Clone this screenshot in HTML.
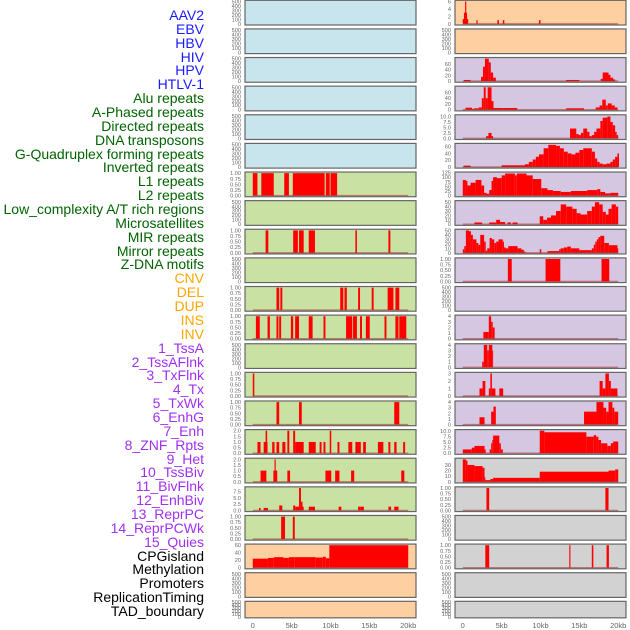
<!DOCTYPE html>
<html><head><meta charset="utf-8">
<style>
html,body{margin:0;padding:0;background:#fff;}
body{width:630px;height:630px;overflow:hidden;position:relative;font-family:"Liberation Sans",sans-serif;}
#labels{position:absolute;left:0;top:0;width:204px;height:630px;}
.lab{position:absolute;right:0;font-size:14px;line-height:14px;white-space:nowrap;text-align:right;}
svg{position:absolute;left:0;top:0;}
</style></head>
<body>
<div id="labels"></div>
<svg id="chart" width="630" height="630"></svg>
<script>
// ---- data ----
const trackNames=["AAV2","EBV","HBV","HIV","HPV","HTLV-1","Alu repeats","A-Phased repeats","Directed repeats","DNA transposons","G-Quadruplex forming repeats","Inverted repeats","L1 repeats","L2 repeats","Low_complexity A/T rich regions","Microsatellites","MIR repeats","Mirror repeats","Z-DNA motifs","CNV","DEL","DUP","INS","INV","1_TssA","2_TssAFlnk","3_TxFlnk","4_Tx","5_TxWk","6_EnhG","7_Enh","8_ZNF_Rpts","9_Het","10_TssBiv","11_BivFlnk","12_EnhBiv","13_ReprPC","14_ReprPCWk","15_Quies","CPGisland","Methylation","Promoters","ReplicationTiming","TAD_boundary"];
const trackGroups=["virus","virus","virus","virus","virus","virus","repeat","repeat","repeat","repeat","repeat","repeat","repeat","repeat","repeat","repeat","repeat","repeat","repeat","sv","sv","sv","sv","sv","chrom","chrom","chrom","chrom","chrom","chrom","chrom","chrom","chrom","chrom","chrom","chrom","chrom","chrom","chrom","other","other","other","other","other"];
const xTicks=[0,5,10,15,20];
const xTickLabels=["0","5kb","10kb","15kb","20kb"];
const emptyTicks=[0,100,200,300,400,500];
const binTicks=[0,0.25,0.5,0.75,1];
const binTickLabels=["0.00","0.25","0.50","0.75","1.00"];
// segments: [start_kb, end_kb, value]
const L7=[[0,0.6,1],[1.1,2.7,1],[4.05,4.65,1],[5.15,9.25,1],[9.4,9.9,1],[10.0,10.85,1]];
const L9=[[1.65,2.0,1],[5.2,5.8,1],[5.95,6.55,1],[7.2,8.0,1],[13.2,13.4,1],[17.45,17.7,1]];
const L11=[[3.05,3.4,1],[3.55,3.8,1],[11.25,11.65,1],[11.8,12.1,1],[13.55,13.8,1],[15.3,15.55,1],[17.35,18.1,1],[18.35,18.85,1]];
const L12=[[0.4,0.9,1],[1.9,2.2,1],[3.05,3.3,1],[3.4,3.65,1],[4.9,5.2,1],[5.45,5.95,1],[7.2,7.7,1],[9.1,9.35,1],[12.0,12.8,1],[12.9,13.4,1],[13.8,14.05,1],[14.55,15.05,1],[16.95,17.2,1],[18.35,18.75,1],[18.85,19.75,1]];
const L14=[[0,0.2,1]];
const L15=[[3.05,3.4,1],[5.95,6.3,1],[18.2,18.85,1]];
const L16=[[0.6,1.0,1],[1.4,1.9,1],[1.65,1.85,2],[2.5,2.8,1],[3.05,3.4,1],[3.8,4.2,1],[4.45,4.7,2],[5.2,5.45,2],[5.45,6.55,1],[7.2,8.1,1],[8.6,8.85,1],[9.1,9.35,1],[9.9,10.1,2],[10.9,11.15,1],[12.3,12.8,1],[13.2,13.9,1],[14.2,14.55,1],[16.1,16.8,1],[17.45,17.7,1],[18.2,18.5,1],[19.35,19.6,1]];
const L17=[[1.0,1.75,1],[2.65,3.15,1],[2.8,2.95,2],[4.45,4.8,1],[9.35,10.1,1],[10.6,11.15,1],[12.65,13.05,1],[19.1,19.5,1]];
const L18=[[0.8,1.0,1],[1.4,1.95,1],[3.4,3.8,2],[5.2,5.45,2],[5.45,5.95,1.5],[5.95,6.2,9],[6.2,6.4,3.5],[6.4,6.55,1.5],[7.2,8.0,1.5],[11.05,11.4,1.5],[13.55,13.9,1.5],[13.9,14.3,1.5],[17.45,17.8,1.5],[18.2,18.75,1.5]];
const L19=[[3.65,4.15,1],[5.15,5.4,1]];
const L20=[[0,1.95,24],[1.95,2.7,26],[2.7,3.95,28],[3.95,4.65,26],[4.65,5.4,28],[5.4,8.1,28],[8.1,9.0,27],[9.0,9.4,29],[9.4,9.85,25],[9.85,20,60]];
const R1=[[0,0.7,1.3],[0.15,0.55,3],[0.3,0.45,6],[1.75,1.9,1],[4.45,4.65,1],[5.15,5.35,1],[9.8,10.0,1]];
const R3=[[0.15,1.0,4],[2.35,2.6,15],[2.6,2.85,50],[2.85,3.35,78],[3.35,3.6,65],[3.6,3.9,30],[3.9,4.25,12],[13.3,15.0,4],[17.75,18.0,8],[18.0,18.75,30],[18.75,19.0,22],[19.0,19.35,12],[19.35,19.6,6]];
const R4=[[0.35,1.2,7],[1.2,1.45,3],[1.45,2.05,5],[2.05,2.45,8],[2.45,2.7,40],[2.7,2.95,78],[2.95,3.2,40],[3.2,3.7,78],[3.7,3.95,30],[3.95,5.2,6],[5.2,7.0,6],[13.3,15.6,5],[17.1,17.6,8],[17.6,17.95,15],[17.95,18.4,35],[18.4,18.65,15],[18.65,19.15,22],[19.15,19.55,15],[19.55,19.9,8]];
const R5=[[3.0,3.3,1],[3.3,3.7,2.5],[3.7,3.9,1],[13.8,14.6,4.5],[14.6,14.9,2],[14.9,15.2,1.5],[15.2,15.5,2.5],[15.5,16.0,4.5],[16.0,16.3,3],[16.3,16.6,1],[16.6,16.9,1.5],[16.9,17.2,3],[17.2,17.7,4.5],[17.7,18.0,8],[18.0,18.6,9.5],[18.6,19.0,10],[19.0,19.3,7.5],[19.3,19.6,6],[19.6,19.8,3],[19.8,20.0,1.5]];
const R6=[[0.1,1.0,4],[5.0,8.0,5],[8.0,8.5,8],[8.5,9.0,15],[9.0,9.4,22],[9.4,9.8,30],[9.8,10.4,37],[10.4,11.0,55],[11.0,12.0,65],[12.0,12.5,62],[12.5,13.0,55],[13.0,13.5,45],[13.5,14.0,40],[14.0,14.5,37],[14.5,15.0,42],[15.0,15.5,50],[15.5,16.6,55],[16.6,17.0,45],[17.0,17.3,25],[17.3,17.6,15],[17.6,18.0,10],[18.0,18.5,8],[18.5,19.0,10],[19.0,19.3,15],[19.3,19.6,22],[19.6,19.9,30],[19.9,20.1,40]];
const R7=[[0,0.4,85],[0.4,0.6,80],[0.6,1.0,55],[1.0,1.65,70],[1.65,2.4,85],[2.4,2.75,55],[2.75,3.05,15],[3.05,3.4,10],[3.4,3.7,30],[3.7,3.9,80],[3.9,4.4,100],[4.4,5.0,95],[5.0,5.45,110],[5.45,6.7,120],[6.7,6.95,110],[6.95,8.2,120],[8.2,9.0,110],[9.0,10.1,90],[10.1,10.9,40],[10.9,11.6,30],[11.6,12.6,25],[12.6,13.9,20],[13.9,16.0,25],[16.0,17.3,30],[17.3,17.7,35],[17.7,18.3,20],[18.3,19.0,12],[19.0,20.0,15]];
const R8=[[1.5,2.5,4],[3.4,4.3,4],[4.3,4.8,10],[4.8,5.45,5],[5.75,6.2,4],[6.4,7.05,4],[9.9,10.35,18],[10.35,10.85,10],[10.85,11.35,15],[11.35,12.0,20],[12.0,12.6,30],[12.6,13.3,45],[13.3,14.1,40],[14.1,14.65,35],[14.65,15.15,25],[15.15,16.0,22],[16.0,16.6,30],[16.6,17.0,40],[17.0,17.55,50],[17.55,18.0,45],[18.0,18.4,28],[18.4,18.75,22],[18.75,19.15,35],[19.15,19.7,45],[19.7,20.0,40]];
const R9=[[0,0.2,8],[0.2,0.4,15],[0.4,0.8,50],[0.8,1.05,48],[1.05,1.3,40],[1.3,1.75,30],[1.75,2.0,22],[2.0,2.25,18],[2.25,2.75,40],[2.75,2.95,25],[2.95,3.15,5],[3.15,3.45,10],[3.45,3.75,33],[3.75,4.05,30],[4.05,4.3,22],[4.3,4.6,25],[4.6,5.15,30],[5.15,5.3,25],[5.3,5.5,12],[5.5,5.85,10],[5.85,7.05,15],[7.05,7.55,10],[7.55,7.85,7],[7.85,8.05,3],[9.9,10.1,8],[10.9,12.4,4],[12.4,12.6,8],[12.6,13.0,10],[13.0,13.45,12],[13.45,13.9,14],[13.9,15.0,10],[15.0,16.6,6],[16.6,16.85,10],[16.85,17.05,18],[17.05,17.25,25],[17.25,17.45,30],[17.45,17.7,35],[17.7,18.2,38],[18.2,18.8,22],[18.8,19.9,17],[19.9,20.0,10]];
const R10=[[5.8,6.3,1],[10.65,12.55,1],[17.85,18.85,1]];
const R12=[[2.65,3.35,1.2],[3.35,3.65,4],[3.65,3.85,3],[3.85,4.1,2]];
const R13=[[2.5,2.7,1],[2.7,3.15,4],[3.15,3.35,3],[3.35,3.8,4],[3.8,3.9,3]];
const R14=[[2.15,2.55,1],[2.55,2.9,2],[3.35,3.55,1],[3.55,3.75,3],[3.75,4.2,1],[4.7,5.2,1],[17.6,18.0,2],[18.0,18.35,1],[18.35,18.8,3],[18.8,19.05,2],[19.05,19.9,1]];
const R15=[[2.15,2.8,1.3],[3.65,3.95,2.3],[3.95,4.25,3.2],[15.6,17.2,2.3],[17.2,18.1,4],[18.1,18.45,3],[18.45,18.75,2.3],[18.75,19.25,4],[19.25,19.5,3],[19.5,20.0,2.3]];
const R16=[[0,1.15,1.7],[1.15,1.5,2.5],[1.5,2.8,3.3],[2.8,2.95,1.7],[3.45,3.65,1.7],[3.65,3.8,4.5],[3.8,3.9,6],[3.9,4.7,8],[4.7,4.9,4.5],[4.9,5.15,1.7],[9.9,10.5,10.2],[10.5,15.9,9.5],[15.9,16.85,7.5],[16.85,17.15,8.2],[17.15,17.45,7.5],[17.45,17.8,6],[17.8,18.6,4.5],[18.6,19.05,3.3],[19.05,19.35,4.5],[19.35,20.0,5.3]];
const R17=[[0,0.4,40],[0.4,0.6,38],[0.6,1.5,30],[1.5,2.55,28],[2.55,2.8,25],[2.8,2.9,8],[2.9,3.55,3],[3.55,3.9,5],[3.9,9.9,7],[9.9,18.75,18],[18.75,19.6,20],[19.6,20.0,22]];
const R18=[[3.05,3.4,1],[18.35,18.75,1]];
const R20=[[2.9,3.4,1],[13.7,13.85,1],[16.6,16.8,1],[18.5,18.8,1]];

const C={blue:"#c8e4ec",green:"#c9e2a3",peach:"#fecfa0",purple:"#d5c7e2",grey:"#d2d2d2"};
function P(col,row,bg,segs,ticks,labels,max){return {col,row,bg,segs,ticks,labels,max};}
const E=null;
const panels=[
P(0,0,C.blue,E),P(0,1,C.blue,E),P(0,2,C.blue,E),P(0,3,C.blue,E),P(0,4,C.blue,E),P(0,5,C.blue,E),
P(0,6,C.green,L7,binTicks,binTickLabels,1),P(0,7,C.green,E),P(0,8,C.green,L9,binTicks,binTickLabels,1),P(0,9,C.green,E),
P(0,10,C.green,L11,binTicks,binTickLabels,1),P(0,11,C.green,L12,binTicks,binTickLabels,1),P(0,12,C.green,E),
P(0,13,C.green,L14,binTicks,binTickLabels,1),P(0,14,C.green,L15,binTicks,binTickLabels,1),
P(0,15,C.green,L16,[0,0.5,1,1.5,2],["0.0","0.5","1.0","1.5","2.0"],2),
P(0,16,C.green,L17,[0,0.5,1,1.5,2],["0.0","0.5","1.0","1.5","2.0"],2),
P(0,17,C.green,L18,[0,2.5,5,7.5],["0.0","2.5","5.0","7.5"],9),
P(0,18,C.green,L19,binTicks,binTickLabels,1),
P(0,19,C.peach,L20,[0,20,40,60],["0","20","40","60"],60),P(0,20,C.peach,E),P(0,21,C.peach,E),
P(1,0,C.peach,R1,[0,2,4,6],["0","2","4","6"],6),P(1,1,C.peach,E),
P(1,2,C.purple,R3,[0,20,40,60],["0","20","40","60"],78),
P(1,3,C.purple,R4,[0,20,40,60],["0","20","40","60"],78),
P(1,4,C.purple,R5,[0,2.5,5,7.5,10],["0.0","2.5","5.0","7.5","10.0"],10.3),
P(1,5,C.purple,R6,[0,20,40,60],["0","20","40","60"],66),
P(1,6,C.purple,R7,[0,25,50,75,100,125],["0","25","50","75","100","125"],122),
P(1,7,C.purple,R8,[0,10,20,30,40,50],["0","10","20","30","40","50"],51),
P(1,8,C.purple,R9,[0,10,20,30,40,50],["0","10","20","30","40","50"],50),
P(1,9,C.purple,R10,binTicks,binTickLabels,1),P(1,10,C.purple,E),
P(1,11,C.purple,R12,[0,1,2,3,4],["0","1","2","3","4"],4),
P(1,12,C.purple,R13,[0,1,2,3,4],["0","1","2","3","4"],4),
P(1,13,C.purple,R14,[0,1,2,3],["0","1","2","3"],3),
P(1,14,C.purple,R15,[0,1,2,3,4],["0","1","2","3","4"],4),
P(1,15,C.purple,R16,[0,2.5,5,7.5,10],["0.0","2.5","5.0","7.5","10.0"],10.2),
P(1,16,C.grey,R17,[0,10,20,30],["0","10","20","30"],40),
P(1,17,C.grey,R18,binTicks,binTickLabels,1),P(1,18,C.grey,E),
P(1,19,C.grey,R20,binTicks,binTickLabels,1),P(1,20,C.grey,E),P(1,21,C.grey,E)
];

// ---- labels ----
const labColors={virus:"#1a1aff",repeat:"#006400",sv:"#ffa500",chrom:"#a030f0",other:"#000"};
const labBox=document.getElementById('labels');
trackNames.forEach((n,i)=>{
  const d=document.createElement('div');
  d.className='lab';
  
  
  d.style.top=(8+i*13.86)+'px';
  d.style.color=labColors[trackGroups[i]];
  d.textContent=n;
  labBox.appendChild(d);
});

// ---- chart ----
const NS="http://www.w3.org/2000/svg";
const svg=document.getElementById('chart');
function el(tag,attrs){const e=document.createElementNS(NS,tag);for(const k in attrs)e.setAttribute(k,attrs[k]);return e;}
const colX=[245,455], PW=171, XLO=-1, XHI=21;
function rowTop(r){return 0.3+r*28.62;}
function rowH(r){return r===21?16.5:24.7;}
function xScale(col,kb){return colX[col]+(kb-XLO)/(XHI-XLO)*PW;}

panels.forEach(p=>{
  const g=el('g',{});
  
  
  svg.appendChild(g);
  const top=rowTop(p.row), h=rowH(p.row), x0=colX[p.col];
  const bg=el('rect',{x:x0,y:top,width:PW,height:h,fill:p.bg});
  
  
  g.appendChild(bg);
  const empty=!p.segs;
  const ticks=empty?emptyTicks:p.ticks;
  const labels=empty?emptyTicks.map(String):p.labels;
  const max=empty?500:p.max;
  const lo=-0.05*max, hi=1.05*max;
  const yS=v=>top+h-(v-lo)/(hi-lo)*h;
  ticks.forEach((t,i)=>{
    const tx=el('text',{x:x0-4,y:yS(t)+2,'font-size':'5.6','text-anchor':'end',fill:'#666','font-family':'Liberation Sans, sans-serif'});
    
    
    tx.textContent=labels[i];
    g.appendChild(tx);
  });
  if(!empty){
    p.segs.forEach(s=>{
      const v=Math.min(s[2],hi);
      const xa=xScale(p.col,s[0]), xb=xScale(p.col,s[1]);
      const r=el('rect',{x:xa,y:yS(v),width:Math.max(0.8,xb-xa),height:yS(0)-yS(v),fill:'#ff0000'});
      
      
      g.appendChild(r);
    });
    const bl=el('line',{x1:xScale(p.col,0),x2:xScale(p.col,20),y1:yS(0),y2:yS(0),stroke:'rgba(170,40,40,0.55)','stroke-width':1.4});
    
    
    g.appendChild(bl);
  }
  const fr=el('rect',{x:x0,y:top,width:PW,height:h,fill:'none',stroke:'#666','stroke-width':1.2});
  
  
  g.appendChild(fr);
});

[0,1].forEach(col=>{
  xTicks.forEach((t,i)=>{
    const tx=el('text',{x:xScale(col,t),y:628,'font-size':'7.5','text-anchor':'middle',fill:'#666','font-family':'Liberation Sans, sans-serif'});
    
    
    tx.textContent=xTickLabels[i];
    svg.appendChild(tx);
  });
});
</script>
</body></html>
